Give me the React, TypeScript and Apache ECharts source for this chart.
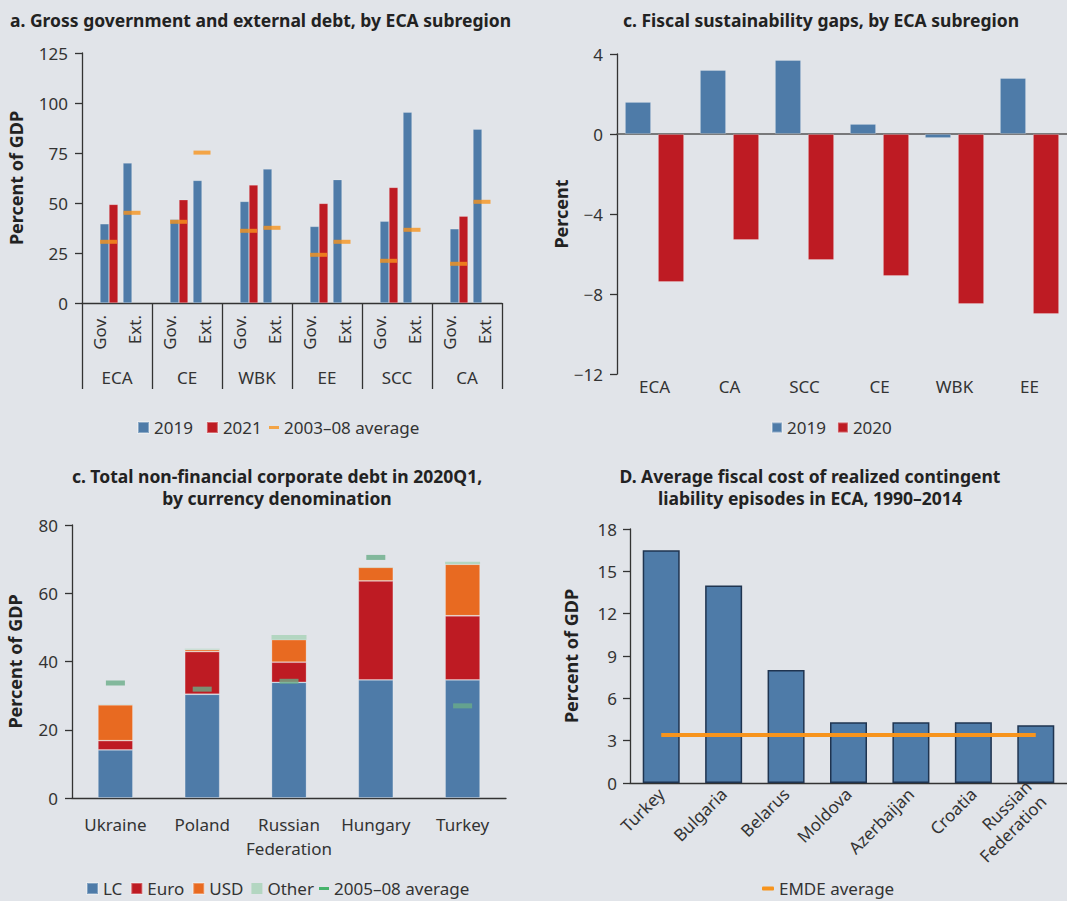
import React, { useEffect, useRef } from 'react';
import * as echarts from 'echarts';

// ---------- Panel a ----------
const regionsA = ['ECA', 'CE', 'WBK', 'EE', 'SCC', 'CA'];
const subLabelsA = ['Gov.', 'Ext.', 'Gov.', 'Ext.', 'Gov.', 'Ext.', 'Gov.', 'Ext.', 'Gov.', 'Ext.', 'Gov.', 'Ext.'];
const gov2019 = [39.6, 41.8, 50.8, 38.3, 40.9, 37.1];
const gov2021 = [49.3, 51.6, 59.0, 49.8, 57.8, 43.4];
const ext2019 = [70.0, 61.3, 67.0, 61.7, 95.4, 86.9];
const govAvg = [30.6, 40.6, 36.1, 24.1, 21.1, 19.6];
const extAvg = [45.1, 75.2, 37.6, 30.6, 36.6, 50.6];

// ---------- Panel c (top right) ----------
const regionsC = ['ECA', 'CA', 'SCC', 'CE', 'WBK', 'EE'];
const gap2019 = [1.6, 3.2, 3.7, 0.5, -0.2, 2.8];
const gap2020 = [-7.4, -5.3, -6.3, -7.1, -8.5, -9.0];

// ---------- Panel c (bottom left) ----------
const countries = ['Ukraine', 'Poland', 'Russian\nFederation', 'Hungary', 'Turkey'];
const lcDebt = [14.1, 30.4, 33.9, 34.6, 34.6];
const euroDebt = [2.7, 12.5, 5.9, 29.0, 18.8];
const usdDebt = [10.5, 0.6, 6.6, 4.0, 15.1];
const otherDebt = [0.1, 0.2, 1.4, 0.1, 0.7];
const avg0508 = [33.7, 31.9, 34.2, 70.5, 27.0];

// ---------- Panel D ----------
const episodes = ['Turkey', 'Bulgaria', 'Belarus', 'Moldova', 'Azerbaijan', 'Croatia', 'Russian\nFederation'];
const fiscalCost = [16.5, 14.0, 8.0, 4.3, 4.3, 4.3, 4.1];
const emdeAverage = [3.4, 3.4, 3.4, 3.4, 3.4, 3.4, 3.4];

const BLUE = '#4e7ba8';
const RED = '#be1b23';
const ORANGE = '#f7941d';
const USD_ORANGE = '#e86a21';
const OTHER_GREEN = '#b3d6c1';
const AVG_GREEN = '#6aad88';
const BG = '#e1e4e9';
const AXIS = '#333333';
const TXT = '#333333';
const FONT = 'Noto Sans';

const minusFmt = (v: number) => String(v).replace('-', '\u2212');

export default function App() {
  const ref = useRef<HTMLDivElement>(null);

  useEffect(() => {
    if (!ref.current) return;
    const chart = echarts.init(ref.current, undefined, { renderer: 'svg' });

    const axisLine = { show: true, lineStyle: { color: AXIS, width: 1.3 } };
    const yTick = { show: true, length: 7, lineStyle: { color: AXIS, width: 1.3 } };
    const yLabel = { fontSize: 17, color: TXT, margin: 14, fontFamily: FONT };
    const yName = { fontSize: 18, fontWeight: 'bold' as const, color: '#222', fontFamily: FONT };
    const lgText = { fontSize: 17, color: TXT, fontFamily: FONT };

    const titleStyle = (text: string, x: number, y: number, align: string) => ({
      type: 'text',
      x,
      y,
      silent: true,
      style: {
        text,
        align,
        verticalAlign: 'middle',
        fontSize: 17.5,
        fontWeight: 'bold',
        fontFamily: FONT,
        fill: '#222',
        lineHeight: 22,
      },
    });

    const option: any = {
      animation: false,
      backgroundColor: BG,
      textStyle: { fontFamily: FONT },
      graphic: [
        titleStyle('a. Gross government and external debt, by ECA subregion', 10, 20, 'left'),
        titleStyle('c. Fiscal sustainability gaps, by ECA subregion', 821, 20, 'center'),
        titleStyle('c. Total non-financial corporate debt in 2020Q1,\nby currency denomination', 277, 487, 'center'),
        titleStyle('D. Average fiscal cost of realized contingent\nliability episodes in ECA, 1990\u20132014', 810, 487, 'center'),
      ],
      legend: [
        {
          data: ['2019', '2021'],
          left: 137, top: 419, padding: 0,
          icon: 'rect', itemWidth: 11, itemHeight: 11, itemGap: 13,
          textStyle: lgText, selectedMode: false,
        },
        {
          data: ['2003\u201308 average'],
          left: 269, top: 419, padding: 0,
          icon: 'rect', itemWidth: 10, itemHeight: 3,
          textStyle: lgText, selectedMode: false,
        },
        {
          data: ['2019', '2020'],
          left: 771, top: 419, padding: 0,
          icon: 'rect', itemWidth: 10, itemHeight: 10, itemGap: 11,
          textStyle: lgText, selectedMode: false,
        },
        {
          data: ['LC', 'Euro', 'USD', 'Other'],
          left: 86, top: 880, padding: 0,
          icon: 'rect', itemWidth: 11, itemHeight: 11, itemGap: 8,
          textStyle: lgText, selectedMode: false,
        },
        {
          data: [{ name: '2005\u201308 average', itemStyle: { color: '#1fa64b' } }],
          left: 319, top: 880, padding: 0,
          icon: 'rect', itemWidth: 10, itemHeight: 3,
          textStyle: lgText, selectedMode: false,
        },
        {
          data: ['EMDE average'],
          left: 762, top: 880, padding: 0,
          icon: 'roundRect', itemWidth: 12, itemHeight: 4,
          textStyle: lgText, selectedMode: false,
        },
      ],
      grid: [
        { left: 82, top: 53, width: 420, height: 250 },
        { left: 617, top: 54, width: 450, height: 320 },
        { left: 72, top: 525, width: 434, height: 273 },
        { left: 630, top: 529, width: 437, height: 254 },
      ],
      xAxis: [
        {
          gridIndex: 0, type: 'category', data: regionsA, position: 'bottom',
          axisLine,
          axisTick: { show: true, length: 86, interval: 0, lineStyle: { color: AXIS, width: 1.3 } },
          axisLabel: { margin: 66, fontSize: 17, color: TXT, interval: 0 },
        },
        { gridIndex: 0, type: 'category', data: regionsA, show: false, position: 'bottom' },
        {
          gridIndex: 0, type: 'category', position: 'bottom',
          data: subLabelsA.map((s) => (s === 'Ext.' ? { value: s, textStyle: { padding: [0, 0, 19, 0] } } : { value: s, textStyle: { padding: [0, 0, 3, 0] } })),
          axisLine: { show: false, onZero: false }, axisTick: { show: false },
          axisLabel: { rotate: 90, margin: 12, fontSize: 17, color: TXT, interval: 0 },
        },
        {
          gridIndex: 1, type: 'category', data: regionsC,
          axisLine: { show: true, onZero: true, lineStyle: { color: '#555', width: 1.5 } },
          axisTick: { show: false }, axisLabel: { show: false },
        },
        {
          gridIndex: 1, type: 'category', data: regionsC, position: 'bottom',
          axisLine: { show: false, onZero: false }, axisTick: { show: false },
          axisLabel: { margin: 4, fontSize: 17, color: TXT, interval: 0 },
        },
        {
          gridIndex: 2, type: 'category', data: countries,
          axisLine, axisTick: { show: false },
          axisLabel: { margin: 14, fontSize: 17, color: TXT, interval: 0, lineHeight: 24 },
        },
        {
          gridIndex: 3, type: 'category', data: episodes,
          axisLine, axisTick: { show: false },
          axisLabel: { rotate: 45, margin: 8, fontSize: 17, color: TXT, interval: 0, lineHeight: 21, align: 'right' },
        },
      ],
      yAxis: [
        {
          gridIndex: 0, type: 'value', min: 0, max: 125, interval: 25,
          axisLine, axisTick: yTick, splitLine: { show: false }, axisLabel: yLabel,
          name: 'Percent of GDP', nameLocation: 'middle', nameGap: 57, nameTextStyle: yName,
        },
        {
          gridIndex: 1, type: 'value', min: -12, max: 4, interval: 4,
          axisLine, axisTick: yTick, splitLine: { show: false },
          axisLabel: { ...yLabel, formatter: minusFmt },
          name: 'Percent', nameLocation: 'middle', nameGap: 44, nameTextStyle: yName,
        },
        {
          gridIndex: 2, type: 'value', min: 0, max: 80, interval: 20,
          axisLine, axisTick: yTick, splitLine: { show: false }, axisLabel: yLabel,
          name: 'Percent of GDP', nameLocation: 'middle', nameGap: 48, nameTextStyle: yName,
        },
        {
          gridIndex: 3, type: 'value', min: 0, max: 18, interval: 3,
          axisLine, axisTick: yTick, splitLine: { show: false }, axisLabel: { ...yLabel, margin: 13 },
          name: 'Percent of GDP', nameLocation: 'middle', nameGap: 50, nameTextStyle: yName,
        },
      ],
      series: [
        // Panel a
        { name: '2019', type: 'bar', xAxisIndex: 0, yAxisIndex: 0, data: gov2019, barWidth: 9, barGap: '0%', itemStyle: { color: BLUE, borderColor: 'rgba(255,255,255,0.35)', borderWidth: 0.6 } },
        { name: '2021', type: 'bar', xAxisIndex: 0, yAxisIndex: 0, data: gov2021, barWidth: 9, barGap: '0%', itemStyle: { color: RED, borderColor: 'rgba(255,255,255,0.35)', borderWidth: 0.6 } },
        { name: 'spacerGov', type: 'bar', xAxisIndex: 0, yAxisIndex: 0, data: regionsA.map(() => null), barWidth: 16, barGap: '0%' },
        { name: 'spacerExt', type: 'bar', xAxisIndex: 1, yAxisIndex: 0, data: regionsA.map(() => null), barWidth: 21, barGap: '0%' },
        { name: '2019', type: 'bar', xAxisIndex: 1, yAxisIndex: 0, data: ext2019, barWidth: 9, barGap: '0%', itemStyle: { color: BLUE, borderColor: 'rgba(255,255,255,0.35)', borderWidth: 0.6 } },
        { name: '2003\u201308 average', type: 'scatter', xAxisIndex: 0, yAxisIndex: 0, data: govAvg, symbol: 'rect', symbolSize: [17, 4], symbolOffset: [-8.5, 0], itemStyle: { color: ORANGE }, z: 5 },
        { name: '2003\u201308 average', type: 'scatter', xAxisIndex: 0, yAxisIndex: 0, data: extAvg, symbol: 'rect', symbolSize: [17, 4], symbolOffset: [15, 0], itemStyle: { color: ORANGE }, z: 5 },

        // Panel c top
        { name: '2019', type: 'bar', xAxisIndex: 3, yAxisIndex: 1, data: gap2019, barWidth: 26, barGap: '27%', itemStyle: { color: BLUE, borderColor: 'rgba(255,255,255,0.3)', borderWidth: 0.8 } },
        { name: '2020', type: 'bar', xAxisIndex: 3, yAxisIndex: 1, data: gap2020, barWidth: 26, barGap: '27%', itemStyle: { color: RED, borderColor: 'rgba(255,255,255,0.3)', borderWidth: 0.8 } },

        // Panel c bottom
        { name: 'LC', type: 'bar', stack: 'debt', xAxisIndex: 5, yAxisIndex: 2, data: lcDebt, barWidth: 35, itemStyle: { color: BLUE, borderColor: 'rgba(255,255,255,0.3)', borderWidth: 0.8 } },
        { name: 'Euro', type: 'bar', stack: 'debt', xAxisIndex: 5, yAxisIndex: 2, data: euroDebt, barWidth: 35, itemStyle: { color: RED, borderColor: 'rgba(255,255,255,0.3)', borderWidth: 0.8 } },
        { name: 'USD', type: 'bar', stack: 'debt', xAxisIndex: 5, yAxisIndex: 2, data: usdDebt, barWidth: 35, itemStyle: { color: USD_ORANGE, borderColor: 'rgba(255,255,255,0.3)', borderWidth: 0.8 } },
        { name: 'Other', type: 'bar', stack: 'debt', xAxisIndex: 5, yAxisIndex: 2, data: otherDebt, barWidth: 35, itemStyle: { color: OTHER_GREEN } },
        { name: '2005\u201308 average', type: 'scatter', xAxisIndex: 5, yAxisIndex: 2, data: avg0508, symbol: 'rect', symbolSize: [19, 5], itemStyle: { color: AVG_GREEN }, z: 5 },

        // Panel D
        { name: 'Fiscal cost', type: 'bar', xAxisIndex: 6, yAxisIndex: 3, data: fiscalCost, barWidth: 37, itemStyle: { color: BLUE, borderColor: '#1f3450', borderWidth: 1.5 } },
        { name: 'EMDE average', type: 'line', xAxisIndex: 6, yAxisIndex: 3, data: emdeAverage, symbol: 'none', lineStyle: { color: ORANGE, width: 4 }, itemStyle: { color: ORANGE }, z: 5 },
      ],
    };

    chart.setOption(option);
    return () => chart.dispose();
  }, []);

  return (
    <div
      ref={ref}
      style={{ position: 'absolute', left: 0, top: 0, width: 1067, height: 901, background: BG }}
    />
  );
}
